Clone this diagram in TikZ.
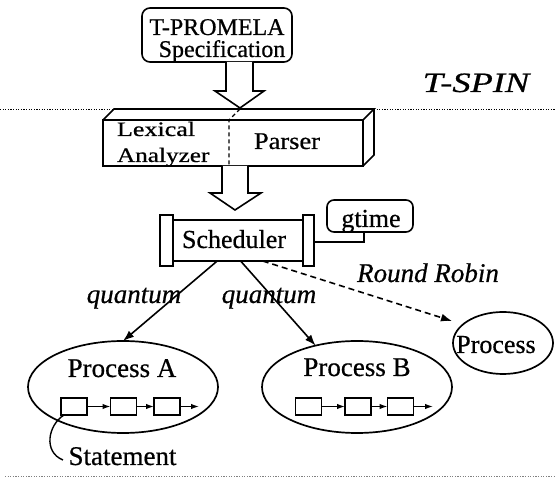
\documentclass[tikz,border=0pt]{standalone}
\usepackage{fontspec}
\setmainfont{Liberation Serif}[UprightFeatures={FakeBold=0.6},ItalicFeatures={FakeBold=0.6}]
\usetikzlibrary{arrows.meta,calc,shapes.geometric}
\begin{document}
\begin{tikzpicture}[x=1pt,y=-1pt,
  every node/.style={inner sep=0pt,outer sep=0pt},
  txt/.style={font=\fontsize{26}{28}\selectfont,anchor=base},
  itxt/.style={font=\fontsize{27}{28}\selectfont\itshape,anchor=base},
  frame/.style={draw,line width=1.6pt},
  dotline/.style={line width=0.8pt,dash pattern=on 1.2pt off 1.4pt},
  hollow/.style={draw,line width=1.6pt,fill=white,line join=miter},
  flow/.style={line width=1.6pt,-{Latex[length=11pt,width=8pt]}},
  chain/.style={line width=1.3pt,-{Latex[length=8pt,width=5.5pt]}},
  stmt/.style={draw,line width=1.4pt,minimum width=26pt,minimum height=17pt},
  proc/.style={draw,ellipse,line width=1.7pt},
  endcap/.style={draw,line width=1.6pt,fill=white}
]
\useasboundingbox (0,0) rectangle (555,478);

% ---- specification box
\node[frame,rounded corners=8pt,minimum width=150pt,minimum height=54pt] (spec) at (217,35) {};
\node[font=\fontsize{24}{22}\selectfont,anchor=base] (specA) at (217,35) {T-PROMELA};
\node[font=\fontsize{24}{22}\selectfont,anchor=base] (specB) at (222,57) {Specification};

% ---- tool boundary
\node[font=\fontsize{28}{30}\selectfont\itshape,anchor=base] (tspin) at (476,92) {\scalebox{1.3}[1]{T-SPIN}};

% ---- front end (3D block)
\node[frame,minimum width=260pt,minimum height=46pt] (parser) at (233,143) {};
\coordinate (pbl) at ($(parser.north west)+(11,-11)$);
\coordinate (pbr) at ($(parser.north east)+(11,-11)$);
\draw[frame,line join=miter] (parser.north west) -- (pbl) -- (pbr) -- (parser.north east);
\draw[frame,line join=miter] (pbr) -- ($(parser.south east)+(11,-11)$) -- (parser.south east);
\draw[line width=1.3pt,dash pattern=on 4pt off 3pt] (240,109) -- (229,120) -- (229,166);
\node[font=\fontsize{20.5}{27}\selectfont,anchor=base west] (lex1) at (117,136) {\scalebox{1.27}[1]{Lexical}};
\node[font=\fontsize{20.5}{27}\selectfont,anchor=base west] (lex2) at (117,162) {\scalebox{1.23}[1]{Analyzer}};
\node[font=\fontsize{24}{26}\selectfont,anchor=base] (parsetxt) at (287,149) {\scalebox{1.1}[1]{Parser}};

% dotted separator line
\coordinate (dl) at (0,109);
\coordinate (dr) at (555,109);
\draw[dotline] (dl) -- (pbl);
\draw[dotline] (pbr) -- (dr);

% ---- hollow flow arrows
\draw[hollow] (226,62) -- (226,91) -- (215,91) -- (240,108) -- (264,91) -- (253,91) -- (253,62);
\draw[hollow] (222,166) -- (222,193) -- (210,193) -- (235,210) -- (261,193) -- (248,193) -- (248,166);

% ---- scheduler
\node[frame,minimum width=130pt,minimum height=41pt] (sched) at (238,240.5) {};
\node[endcap,minimum width=13pt,minimum height=51pt] (capL) at (166.5,240.5) {};
\node[endcap,minimum width=11pt,minimum height=51pt] (capR) at (308.5,240.5) {};
\node[txt] (schedtxt) at (234,248) {Scheduler};

% ---- global time
\node[frame,rounded corners=7pt,minimum width=86pt,minimum height=32pt] (gtime) at (370,216) {};
\node[txt] (gtimetxt) at (371,227) {gtime};
\draw[line width=1.4pt] (gtime.south) ++(-6,0) coordinate (gs) -- (gs |- 0,242) -- (capR.east |- 0,242);

% ---- processes
\node[proc,minimum width=190pt,minimum height=92pt] (procA) at (123,387) {};
\node[proc,minimum width=190pt,minimum height=92pt] (procB) at (357,387) {};
\node[proc,minimum width=100pt,minimum height=62pt] (procC) at (503,343) {};
\node[txt,font=\fontsize{27}{28}\selectfont] (procAtxt) at (122,377) {Process A};
\node[txt,font=\fontsize{27}{28}\selectfont] (procBtxt) at (357,376) {Process B};
\node[txt] (procCtxt) at (496,353) {Process};

% ---- scheduling arrows
\coordinate (sA) at ($(sched.south west)!0.34!(sched.south east)$);
\coordinate (sB) at ($(sched.south west)!0.52!(sched.south east)$);
\coordinate (sC) at ($(sched.south west)!0.69!(sched.south east)$);
\coordinate (rrend) at (452,321);
\draw[flow] (sA) -- (procA.north);
\draw[flow] (sB) -- (procB.135);
\draw[flow,dash pattern=on 6pt off 4pt] (sC) -- (rrend);
\node[itxt] (qA) at (134,303) {quantum};
\node[itxt] (qB) at (269,303) {quantum};
\node[itxt] (rr) at (428,282) {Round Robin};

% ---- statement chains
\node[stmt] (a1) at (74,406.5) {};
\node[stmt] (a2) at (123.5,406.5) {};
\node[stmt] (a3) at (167,406.5) {};
\coordinate (aend) at (199,406.5);
\draw[chain] (a1) -- (a2);
\draw[chain] (a2) -- (a3);
\draw[chain] (a3) -- (aend);

\node[stmt] (b1) at (308.5,406.5) {};
\node[stmt] (b2) at (358,406.5) {};
\node[stmt] (b3) at (400.5,406.5) {};
\coordinate (bend) at (433,406.5);
\draw[chain] (b1) -- (b2);
\draw[chain] (b2) -- (b3);
\draw[chain] (b3) -- (bend);

% ---- statement label
\node[txt,font=\fontsize{27}{28}\selectfont] (stmttxt) at (122.5,465) {Statement};
\coordinate (stmtin) at (63,460);
\draw[line width=1.4pt] ($(a1.south west)+(3,0)$) .. controls (48,425) and (43,452) .. (stmtin);

% bottom dotted line
\coordinate (bl) at (5,476);
\coordinate (br) at (555,476);
\draw[dotline,gray] (bl) -- (br);
\end{tikzpicture}
\end{document}
